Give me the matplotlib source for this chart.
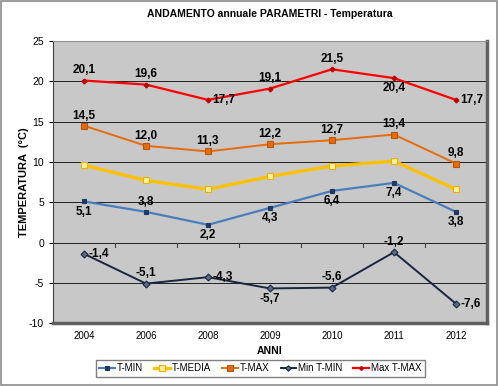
import matplotlib.pyplot as plt
import numpy as np

plt.rcParams["axes.unicode_minus"] = False
plt.rcParams["font.family"] = ["Liberation Sans", "DejaVu Sans"]

anni = ["2004", "2006", "2008", "2009", "2010", "2011", "2012"]
t_min = [5.1, 3.8, 2.2, 4.3, 6.4, 7.4, 3.8]
t_media = [9.6, 7.7, 6.6, 8.2, 9.5, 10.1, 6.6]
t_max = [14.5, 12.0, 11.3, 12.2, 12.7, 13.4, 9.8]
min_t_min = [-1.4, -5.1, -4.3, -5.7, -5.6, -1.2, -7.6]
max_t_max = [20.1, 19.6, 17.7, 19.1, 21.5, 20.4, 17.7]

# where each label sits relative to its point
pos_max_t_max = ["above", "above", "right", "above", "above", "below", "right"]
pos_t_max = ["above"] * 7
pos_t_min = ["below", "above", "below", "below", "below", "below", "below"]
pos_min_t_min = ["right", "above", "right", "below", "above", "above", "right"]

fig = plt.figure(figsize=(4.98, 3.86), dpi=100)
fig.patch.set_facecolor("white")
# outer border
fig.patches.append(plt.Rectangle((0.002, 0.003), 0.995, 0.994, transform=fig.transFigure,
                                 fill=False, edgecolor="#8c8c8c", linewidth=1.2))

ax = fig.add_axes([0.1064, 0.163, 0.8715, 0.7306])
ax.set_facecolor("#c8c8c8")

x = np.arange(len(anni))

series = [
    (t_min, "T-MIN", "#4a7ebb", "s", "#1f3864", "#1f3864", 1.6, 3.5),
    (t_media, "T-MEDIA", "#ffc000", "s", "#fff2a0", "#f0b000", 2.4, 5),
    (t_max, "T-MAX", "#e46c0a", "s", "#e46c0a", "#b85508", 1.4, 5),
    (min_t_min, "Min T-MIN", "#1a2640", "D", "#5a6a88", "#1a2640", 1.4, 3.5),
    (max_t_max, "Max T-MAX", "#ff0000", "P", "#c00000", "#c00000", 1.6, 3.2),
]
for vals, name, col, mk, mfc, mec, lw, ms in series:
    ax.plot(x, vals, color=col, linewidth=lw, marker=mk, markersize=ms,
            markerfacecolor=mfc, markeredgecolor=mec, markeredgewidth=0.8, label=name, zorder=3)


def labels(vals, positions):
    for xi, v, p in zip(x, vals, positions):
        txt = f"{v:.1f}".replace(".", ",")
        if p == "above":
            ax.annotate(txt, (xi, v), xytext=(0, 3), textcoords="offset points",
                        ha="center", va="bottom", fontsize=8.5, fontweight="bold")
        elif p == "below":
            ax.annotate(txt, (xi, v), xytext=(0, -3), textcoords="offset points",
                        ha="center", va="top", fontsize=8.5, fontweight="bold")
        else:
            ax.annotate(txt, (xi, v), xytext=(3, 0), textcoords="offset points",
                        ha="left", va="center", fontsize=8.5, fontweight="bold")


labels(max_t_max, pos_max_t_max)
labels(t_max, pos_t_max)
labels(t_min, pos_t_min)
labels(min_t_min, pos_min_t_min)

ax.set_xlim(-0.5, len(anni) - 0.5)
ax.set_ylim(-10, 25)
ax.set_yticks(range(-10, 26, 5))
ax.yaxis.grid(True, color="#202020", linewidth=0.7)
ax.set_axisbelow(True)
ax.set_xticks(x)
ax.set_xticklabels(anni, fontsize=7)
ax.tick_params(axis="x", length=0, pad=6)
ax.tick_params(axis="y", labelsize=7.5, length=3)

# category boundary ticks along the zero line
for b in np.arange(0.5, len(anni) - 0.5, 1):
    ax.plot([b, b], [0, -0.5], color="#404040", linewidth=0.8, zorder=2)

ax.spines["top"].set_color("#909090")
ax.spines["left"].set_color("#404040")
ax.spines["right"].set_color("#606060")
ax.spines["right"].set_linewidth(2.5)
ax.spines["bottom"].set_color("#606060")
ax.spines["bottom"].set_linewidth(2.5)

ax.set_title("ANDAMENTO annuale PARAMETRI - Temperatura", fontsize=7.5, fontweight="bold", pad=17)
ax.set_xlabel("ANNI", fontsize=7.5, fontweight="bold", labelpad=3)
ax.set_ylabel("TEMPERATURA  (°C)", fontsize=8, fontweight="bold", labelpad=0)

leg = fig.legend(loc="lower center", bbox_to_anchor=(0.523, 0.012), ncol=5, fontsize=7,
                 frameon=True, fancybox=False, edgecolor="#606060", handlelength=1.6,
                 handletextpad=0.2, columnspacing=1.15, borderpad=0.35, markerscale=0.8)

plt.savefig("out.png", dpi=100)
